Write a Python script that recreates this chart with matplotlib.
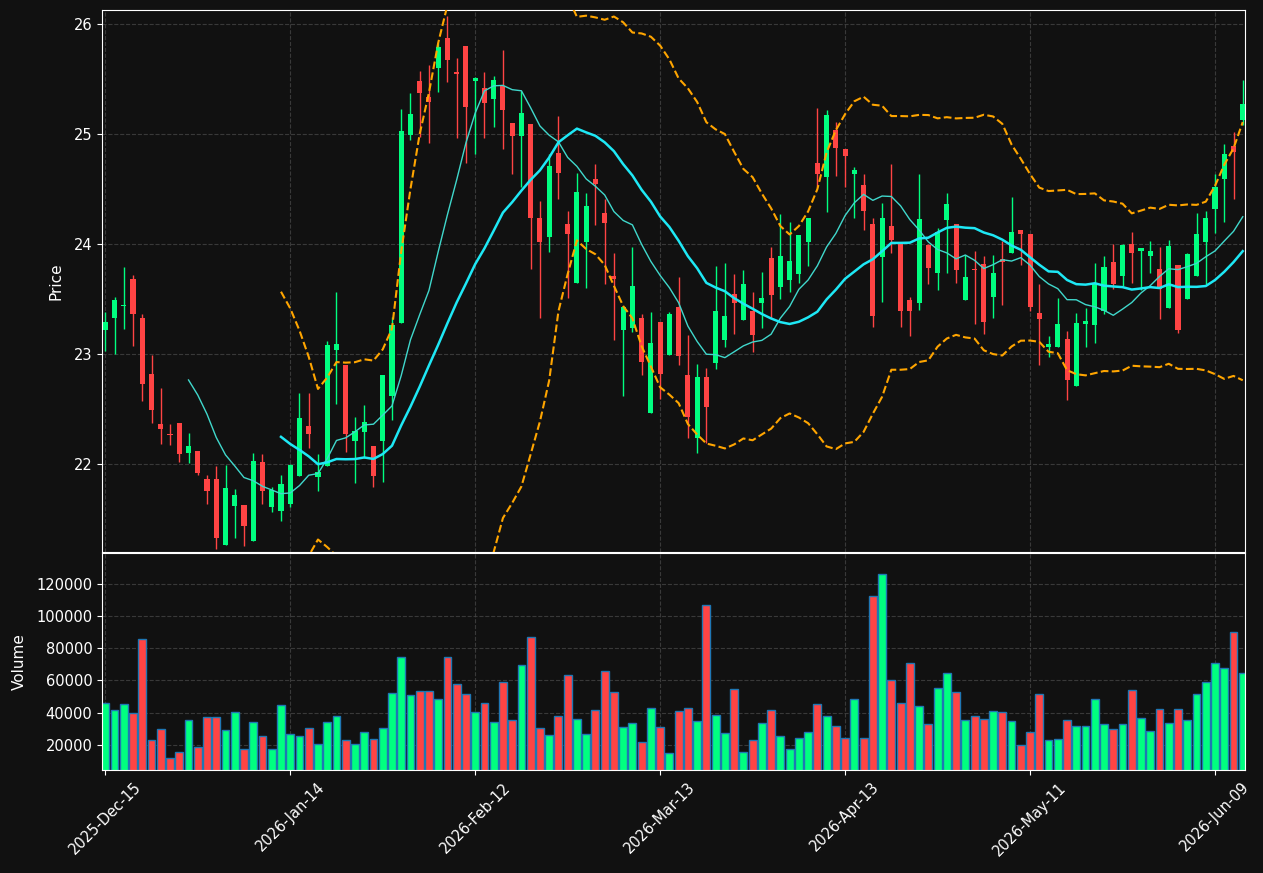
import matplotlib
matplotlib.use('Agg')
import matplotlib.pyplot as plt
import numpy as np
import pandas as pd

# daily OHLCV, US trading calendar (holidays skipped)
dates = pd.bdate_range('2025-12-15', '2026-06-12')
dates = dates[~dates.isin(pd.to_datetime(['2025-12-25', '2026-01-01', '2026-01-19',
                                          '2026-02-16', '2026-04-03', '2026-05-25']))]

opens = [23.22, 23.33, 23.44, 23.68, 23.33, 22.82, 22.36, 22.27, 22.37, 22.10,
         22.12, 21.86, 21.86, 21.26, 21.62, 21.63, 21.30, 22.02, 21.61, 21.57,
         21.64, 21.89, 22.35, 21.88, 21.98, 23.04, 22.90, 22.21, 22.29, 22.16,
         22.21, 22.62, 23.28, 24.99, 25.48, 25.34, 25.60, 25.87, 25.56, 25.80,
         25.48, 25.42, 25.32, 25.44, 25.10, 24.98, 25.09, 24.24, 24.06, 24.83,
         24.18, 23.65, 24.02, 24.59, 24.28, 23.71, 23.22, 23.24, 23.33, 22.46,
         23.29, 22.99, 23.43, 22.81, 22.24, 22.79, 22.92, 23.13, 23.55, 23.31,
         23.39, 23.46, 23.87, 23.61, 23.67, 23.73, 24.02, 24.74, 24.61, 25.04,
         24.86, 24.64, 24.54, 24.18, 23.88, 24.16, 24.01, 23.49, 23.46, 23.99,
         23.74, 24.22, 24.18, 23.49, 23.77, 23.82, 23.52, 23.86, 23.92, 24.13,
         24.09, 23.37, 23.06, 23.06, 23.14, 22.71, 23.27, 23.26, 23.39, 23.84,
         23.71, 24.00, 23.94, 23.89, 23.77, 23.42, 23.81, 23.50, 23.71, 24.02,
         24.32, 24.59, 24.89, 25.13]
highs = [23.38, 23.52, 23.79, 23.72, 23.36, 22.99, 22.69, 22.36, 22.37, 22.28,
         22.12, 21.90, 21.98, 21.99, 21.77, 21.63, 22.10, 22.09, 21.79, 21.90,
         22.00, 22.65, 22.65, 22.09, 23.12, 23.56, 22.90, 22.43, 22.54, 22.16,
         22.81, 23.34, 25.23, 25.37, 25.57, 25.63, 25.83, 26.07, 25.69, 25.80,
         25.52, 25.56, 25.53, 25.76, 25.10, 25.39, 25.09, 24.39, 24.82, 25.16,
         24.30, 24.65, 24.46, 24.73, 24.41, 23.92, 23.43, 23.97, 23.36, 23.38,
         23.29, 23.38, 23.70, 23.17, 22.91, 22.87, 23.80, 23.83, 23.73, 23.76,
         23.56, 23.75, 23.97, 24.27, 24.20, 24.08, 24.24, 25.24, 25.22, 25.11,
         24.86, 24.70, 24.64, 24.24, 24.37, 24.73, 24.01, 23.52, 24.64, 24.00,
         24.15, 24.46, 24.18, 23.90, 23.94, 23.89, 23.90, 24.03, 24.43, 24.13,
         24.09, 23.64, 23.16, 23.51, 23.21, 23.37, 23.42, 23.83, 23.89, 24.00,
         24.00, 24.11, 23.96, 24.03, 23.97, 24.04, 23.81, 23.92, 24.28, 24.30,
         24.64, 24.91, 25.02, 25.49]
lows = [23.03, 23.00, 23.23, 23.07, 22.57, 22.37, 22.18, 22.17, 22.02, 22.01,
        21.90, 21.64, 21.23, 21.26, 21.33, 21.25, 21.30, 21.64, 21.56, 21.48,
        21.61, 21.89, 22.15, 21.75, 21.98, 22.55, 22.11, 21.83, 22.05, 21.79,
        21.84, 22.40, 23.28, 24.95, 24.97, 24.92, 25.38, 25.47, 24.96, 24.74,
        24.82, 24.96, 25.06, 24.86, 24.64, 24.52, 23.77, 23.33, 23.93, 24.41,
        23.51, 23.65, 23.60, 24.17, 23.64, 23.13, 22.62, 23.20, 22.81, 22.46,
        22.59, 22.99, 22.90, 22.24, 22.10, 22.19, 22.86, 23.06, 23.18, 23.31,
        23.02, 23.24, 23.33, 23.50, 23.56, 23.65, 23.80, 24.52, 24.29, 24.62,
        24.52, 24.24, 24.13, 23.25, 23.47, 23.92, 23.25, 23.16, 23.40, 23.64,
        23.58, 23.74, 23.65, 23.49, 23.27, 23.18, 23.33, 23.45, 23.92, 23.81,
        23.39, 22.90, 22.97, 23.06, 22.58, 22.71, 23.06, 23.10, 23.36, 23.59,
        23.62, 23.65, 23.58, 23.74, 23.32, 23.42, 23.19, 23.50, 23.71, 23.64,
        24.10, 24.20, 24.41, 25.08]
closes = [23.29, 23.49, 23.45, 23.36, 22.73, 22.49, 22.32, 22.26, 22.09, 22.16,
          21.92, 21.75, 21.33, 21.78, 21.72, 21.44, 22.03, 21.75, 21.76, 21.82,
          21.99, 22.42, 22.27, 21.93, 23.08, 23.09, 22.27, 22.30, 22.38, 21.89,
          22.81, 23.26, 25.03, 25.18, 25.37, 25.29, 25.79, 25.67, 25.55, 25.25,
          25.51, 25.28, 25.49, 25.22, 24.98, 25.19, 24.24, 24.02, 24.71, 24.65,
          24.09, 24.47, 24.35, 24.55, 24.19, 23.68, 23.43, 23.62, 22.93, 23.10,
          22.82, 23.36, 22.98, 22.43, 22.79, 22.52, 23.39, 23.35, 23.46, 23.64,
          23.17, 23.51, 23.54, 23.89, 23.85, 24.08, 24.24, 24.64, 25.17, 24.87,
          24.80, 24.67, 24.30, 23.35, 24.24, 24.04, 23.39, 23.39, 24.23, 23.78,
          24.11, 24.36, 23.76, 23.70, 23.76, 23.29, 23.74, 23.84, 24.11, 24.09,
          23.43, 23.32, 23.09, 23.27, 22.76, 23.28, 23.30, 23.64, 23.79, 23.64,
          23.99, 23.92, 23.96, 23.94, 23.59, 23.98, 23.22, 23.91, 24.09, 24.24,
          24.52, 24.82, 24.84, 25.27]
volumes = [45780, 41410, 45160, 39540, 85700, 23330, 29560, 12100, 15840, 35180,
           18550, 37050, 37050, 28940, 40170, 17710, 33930, 25200, 17710, 44530,
           26450, 25200, 30190, 20830, 33930, 37670, 23330, 20830, 27690, 23950,
           30190, 52020, 74470, 50770, 53260, 53260, 48270, 74470, 57630, 51390,
           40170, 45780, 33930, 59290, 35180, 69480, 86940, 30190, 25820, 37670,
           63240, 35800, 26450, 41410, 65740, 52640, 30810, 33310, 22080, 42660,
           30810, 15220, 40790, 42660, 34550, 106900, 38710, 27480, 54510, 15840,
           23330, 33310, 41410, 25200, 17710, 24570, 27690, 45160, 37670, 31440,
           24570, 48270, 24570, 112520, 126240, 60130, 45780, 70730, 43910, 32680,
           55140, 64490, 52640, 35180, 37670, 35800, 40790, 40170, 34550, 20210,
           27690, 51390, 23330, 23950, 35180, 31440, 31440, 48270, 32680, 29560,
           32680, 53890, 36420, 28320, 42040, 33310, 42040, 35180, 51390, 58880,
           70730, 67610, 90060, 64490]

df = pd.DataFrame({'Open': opens, 'High': highs, 'Low': lows,
                   'Close': closes, 'Volume': volumes}, index=dates)

ma10 = df['Close'].rolling(10).mean()
ma20 = df['Close'].rolling(20).mean()
sd20 = df['Close'].rolling(20).std(ddof=0)
bb_up = ma20 + 2 * sd20
bb_lo = ma20 - 2 * sd20

bg = '#111111'
up_col = '#00ff80'
down_col = '#ff4444'

fig = plt.figure(figsize=(12.63, 8.73), dpi=100, facecolor=bg)
ax = fig.add_axes([0.0808, 0.3677, 0.905, 0.6208])
axv = fig.add_axes([0.0808, 0.118, 0.905, 0.2486], sharex=ax)

x = np.arange(len(df))
is_up = df['Close'] >= df['Open']
colors = np.where(is_up, up_col, down_col)

# candles
ax.vlines(x, df['Low'], df['High'], colors=colors, linewidth=1, zorder=3)
body_lo = np.minimum(df['Open'], df['Close'])
body_h = np.maximum(np.abs(df['Close'] - df['Open']), 0.008)
ax.bar(x, body_h, bottom=body_lo, width=0.55, color=colors, linewidth=0, zorder=4)

ax.plot(x, ma10, color='#40d8cc', linewidth=1, zorder=5)
ax.plot(x, ma20, color='#1ee8f5', linewidth=1.8, zorder=5)
ax.plot(x, bb_up, color='#ffa500', linestyle='--', linewidth=1.5, zorder=5)
ax.plot(x, bb_lo, color='#ffa500', linestyle='--', linewidth=1.5, zorder=5)

axv.bar(x, df['Volume'], width=0.85, color=colors, edgecolor='#1f77b4', linewidth=1)

ax.set_xlim(-0.35, 123.25)
ax.set_ylim(21.2, 26.127)
ax.set_yticks([22, 23, 24, 25, 26])
axv.set_ylim(4400, 139200)
axv.set_yticks([20000, 40000, 60000, 80000, 100000, 120000])

tick_pos = list(range(0, len(df), 20))
axv.set_xticks(tick_pos)
axv.set_xticklabels([df.index[i].strftime('%Y-%b-%d') for i in tick_pos], rotation=45)
plt.setp(ax.get_xticklabels(), visible=False)

ax.set_ylabel('Price', color='white', fontsize=11, labelpad=7)
axv.set_ylabel('Volume', color='white', fontsize=11, labelpad=7)

for a in (ax, axv):
    a.set_facecolor(bg)
    a.grid(True, linestyle='--', color='#444444', linewidth=0.8, alpha=0.8)
    a.set_axisbelow(True)
    a.tick_params(colors='white', labelsize=10.5)
    for s in a.spines.values():
        s.set_color('white')

fig.savefig('out.png', dpi=100, facecolor=bg)
